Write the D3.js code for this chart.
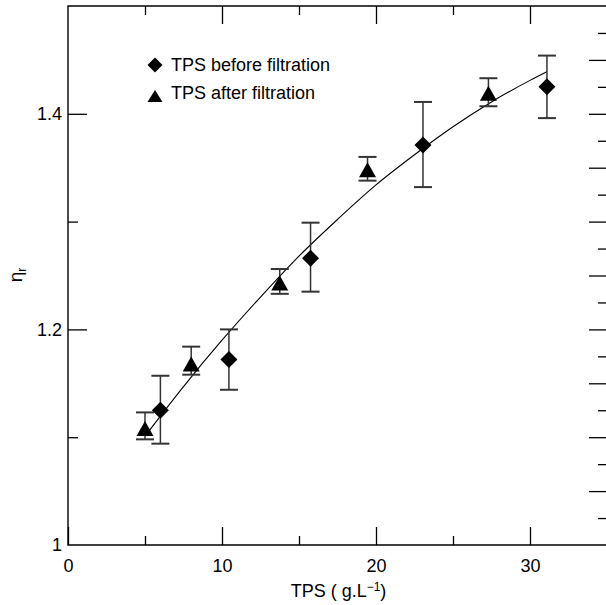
<!DOCTYPE html>
<html>
<head>
<meta charset="utf-8">
<script src="https://cdn.jsdelivr.net/npm/d3@7"></script>
<style>
  body { margin: 0; background: #fff; }
  svg { display: block; font-family: "Liberation Sans", Arial, sans-serif; }
</style>
</head>
<body>
<svg id="chart" width="606" height="605"></svg>
<script>
// TPS before filtration (diamonds)
var tpsBefore = [6.0, 10.45, 15.75, 23.05, 31.1];
var etaBefore = [1.125, 1.172, 1.266, 1.371, 1.425];
var loBefore = [1.094, 1.144, 1.235, 1.332, 1.396];
var hiBefore = [1.157, 1.200, 1.299, 1.411, 1.454];

// TPS after filtration (triangles)
var tpsAfter = [5.0, 8.0, 13.75, 19.45, 27.3];
var etaAfter = [1.108, 1.168, 1.243, 1.348, 1.419];
var loAfter = [1.098, 1.158, 1.233, 1.338, 1.407];
var hiAfter = [1.123, 1.184, 1.256, 1.360, 1.433];

// fitted curve
var fitX = [5, 7.5, 10, 12.5, 15, 17.5, 20, 22.5, 25, 27.5, 30, 31.1];
var fitY = [1.101, 1.147, 1.190, 1.230, 1.268, 1.302, 1.334, 1.362, 1.388, 1.411, 1.431, 1.439];

var xMajor = [0, 10, 20, 30];
var xMinor = [5, 15, 25];
var yLeftMajor = [1, 1.2, 1.4];
var yLeftMinor = [1.1, 1.3];
var yRightMajor = [1.05, 1.1, 1.15, 1.2, 1.25, 1.3, 1.35, 1.4, 1.45];
var yRightMinor = [1.025, 1.075, 1.125, 1.175, 1.225, 1.275, 1.325, 1.375, 1.425, 1.475];

var legendNames = ["TPS before filtration", "TPS after filtration"];

var svg = d3.select("#chart");
var mLeft = 68, mRight = 607, mTop = 6, mBottom = 545;

var x = d3.scaleLinear().domain([0, 35]).range([mLeft, mRight]);
var y = d3.scaleLinear().domain([1, 1.5]).range([mBottom, mTop]);

var ink = "#000";

function noText(g) { g.selectAll("text").remove(); }

// bottom axis (ticks inward)
svg.append("g").attr("transform", "translate(0," + mBottom + ")")
    .call(d3.axisBottom(x).tickValues(xMajor).tickSizeInner(-18).tickSizeOuter(0).tickPadding(14).tickFormat(d3.format("d")))
    .call(function (g) {
        g.select(".domain").remove();
        g.selectAll("text").attr("font-size", 18).attr("fill", ink).attr("font-family", "Liberation Sans, Arial, sans-serif");
    });
svg.append("g").attr("transform", "translate(0," + mBottom + ")")
    .call(d3.axisBottom(x).tickValues(xMinor).tickSizeInner(-9).tickSizeOuter(0))
    .call(function (g) { g.select(".domain").remove(); noText(g); });

// top axis
svg.append("g").attr("transform", "translate(0," + mTop + ")")
    .call(d3.axisTop(x).tickValues(xMajor.slice(1)).tickSizeInner(-18).tickSizeOuter(0))
    .call(function (g) { g.select(".domain").remove(); noText(g); });
svg.append("g").attr("transform", "translate(0," + mTop + ")")
    .call(d3.axisTop(x).tickValues(xMinor).tickSizeInner(-9).tickSizeOuter(0))
    .call(function (g) { g.select(".domain").remove(); noText(g); });

// left axis
svg.append("g").attr("transform", "translate(" + mLeft + ",0)")
    .call(d3.axisLeft(y).tickValues(yLeftMajor).tickSizeInner(-19).tickSizeOuter(0)
        .tickFormat(function (d) { return d === 1 ? "1" : d3.format(".1f")(d); }))
    .call(function (g) {
        g.select(".domain").remove();
        g.selectAll(".tick").filter(function (d) { return d === 1; }).select("line").remove();
        g.selectAll("text").attr("font-size", 18).attr("fill", ink).attr("x", -6)
            .attr("font-family", "Liberation Sans, Arial, sans-serif");
    });
svg.append("g").attr("transform", "translate(" + mLeft + ",0)")
    .call(d3.axisLeft(y).tickValues(yLeftMinor).tickSizeInner(-10).tickSizeOuter(0))
    .call(function (g) { g.select(".domain").remove(); noText(g); });

// right axis
svg.append("g").attr("transform", "translate(" + (mRight - 1) + ",0)")
    .call(d3.axisRight(y).tickValues(yRightMajor).tickSizeInner(-17).tickSizeOuter(0))
    .call(function (g) { g.select(".domain").remove(); noText(g); });
svg.append("g").attr("transform", "translate(" + (mRight - 1) + ",0)")
    .call(d3.axisRight(y).tickValues(yRightMinor).tickSizeInner(-8).tickSizeOuter(0))
    .call(function (g) { g.select(".domain").remove(); noText(g); });

svg.selectAll(".tick line").attr("stroke", ink).attr("stroke-width", 1.3);

// frame
svg.append("path")
    .attr("d", "M" + mRight + "," + mTop + "H" + mLeft + "V" + mBottom + "H" + mRight)
    .attr("fill", "none").attr("stroke", ink).attr("stroke-width", 1.4);

// fit curve
var fit = fitX.map(function (d, i) { return [d, fitY[i]]; });
svg.append("path")
    .datum(fit)
    .attr("fill", "none").attr("stroke", ink).attr("stroke-width", 1.1)
    .attr("d", d3.line().x(function (d) { return x(d[0]); }).y(function (d) { return y(d[1]); }).curve(d3.curveMonotoneX));

// error bars
function errorBars(xs, lo, hi) {
    var g = svg.append("g").attr("stroke", "#333").attr("stroke-width", 1.5);
    xs.forEach(function (v, i) {
        var cx = x(v);
        g.append("line").attr("x1", cx).attr("x2", cx).attr("y1", y(lo[i])).attr("y2", y(hi[i]));
        g.append("line").attr("x1", cx - 9).attr("x2", cx + 9).attr("y1", y(lo[i])).attr("y2", y(lo[i])).attr("stroke-width", 2);
        g.append("line").attr("x1", cx - 9).attr("x2", cx + 9).attr("y1", y(hi[i])).attr("y2", y(hi[i])).attr("stroke-width", 2);
    });
}
errorBars(tpsBefore, loBefore, hiBefore);
errorBars(tpsAfter, loAfter, hiAfter);

function diamond(cx, cy, r) {
    return "M" + cx + "," + (cy - r) + "L" + (cx + r) + "," + cy + "L" + cx + "," + (cy + r) + "L" + (cx - r) + "," + cy + "Z";
}
function triangle(cx, cy, w, h) {
    return "M" + cx + "," + (cy - h / 2) + "L" + (cx + w / 2) + "," + (cy + h / 2) + "L" + (cx - w / 2) + "," + (cy + h / 2) + "Z";
}

svg.append("g").selectAll("path")
    .data(tpsBefore)
    .enter().append("path")
    .attr("d", function (d, i) { return diamond(x(d), y(etaBefore[i]), 8.5); })
    .attr("fill", ink);

svg.append("g").selectAll("path")
    .data(tpsAfter)
    .enter().append("path")
    .attr("d", function (d, i) { return triangle(x(d), y(etaAfter[i]), 17, 15); })
    .attr("fill", ink);

// legend
svg.append("path").attr("d", diamond(155, 65, 7.5)).attr("fill", ink);
svg.append("path").attr("d", triangle(155, 96, 15, 12)).attr("fill", ink);
svg.selectAll(".leg")
    .data(legendNames)
    .enter().append("text")
    .attr("class", "leg")
    .attr("x", 171)
    .attr("y", function (d, i) { return i === 0 ? 65 : 93; })
    .attr("dy", "0.35em")
    .attr("font-size", 18)
    .attr("fill", ink)
    .text(function (d) { return d; });

// axis titles
var xt = svg.append("text")
    .attr("x", (mLeft + mRight) / 2 + 1)
    .attr("y", 597)
    .attr("text-anchor", "middle")
    .attr("font-size", 18)
    .attr("fill", ink);
xt.append("tspan").text("TPS ( g.L");
xt.append("tspan").attr("dy", -6).attr("font-size", 12).text("\u22121");
xt.append("tspan").attr("dy", 6).text(")");

var yt = svg.append("text")
    .attr("transform", "translate(22,275) rotate(-90)")
    .attr("text-anchor", "middle")
    .attr("font-size", 19)
    .attr("fill", ink);
yt.append("tspan").text("\u03b7");
yt.append("tspan").attr("dy", 4).attr("font-size", 12).text("r");
</script>
</body>
</html>
